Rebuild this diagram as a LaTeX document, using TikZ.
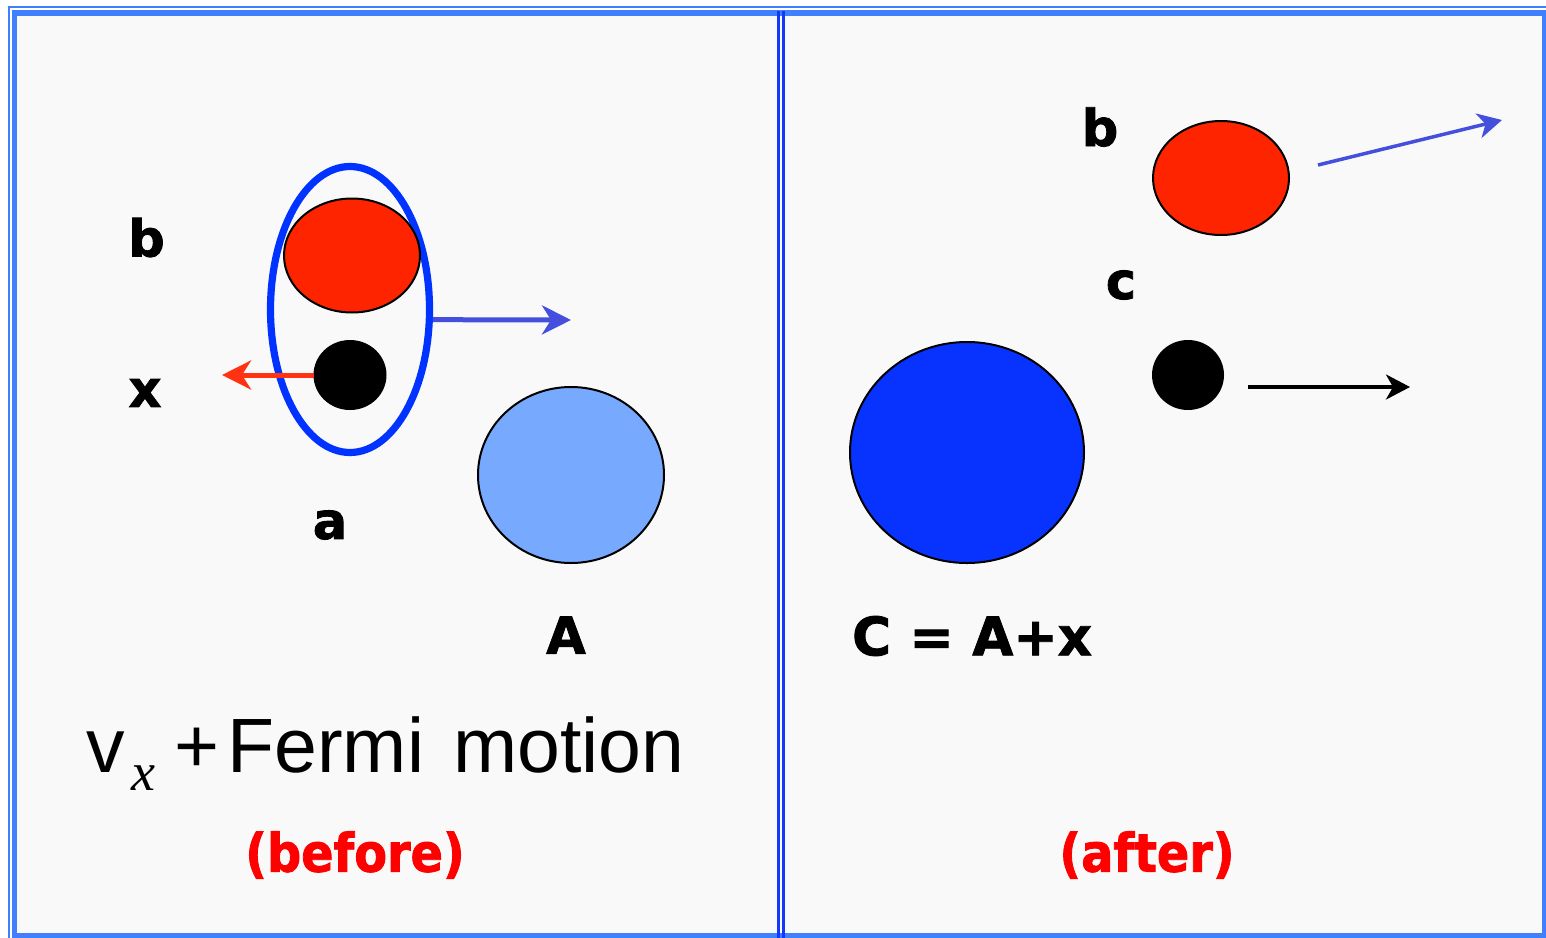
\documentclass[tikz,border=0pt]{standalone}
\usepackage{fontspec}
\usetikzlibrary{shapes.geometric,arrows.meta}
\newfontfamily\lblfont{DejaVu Sans}[FakeBold=1.6]
\newfontfamily\redfont{DejaVu Sans}[FakeStretch=0.9,FakeBold=1.6]
\newfontfamily\arialfont{Liberation Sans}
\newfontfamily\timesfont{Liberation Serif}
\definecolor{frameblue}{RGB}{64,128,255}
\definecolor{divblue}{RGB}{16,56,255}
\definecolor{ringblue}{RGB}{0,51,255}
\definecolor{partred}{RGB}{255,36,0}
\definecolor{lightA}{RGB}{119,170,255}
\definecolor{darkC}{RGB}{8,51,255}
\definecolor{arrowblue}{RGB}{68,80,221}
\definecolor{arrowred}{RGB}{255,51,17}
\definecolor{bggray}{RGB}{249,249,249}
\definecolor{textred}{RGB}{255,0,0}
\begin{document}
\begin{tikzpicture}[x=0.5pt,y=-0.5pt,
  lbl/.style={font=\lblfont\bfseries\fontsize{25.5}{30}\selectfont, inner sep=0pt},
  redlbl/.style={font=\redfont\bfseries\fontsize{26.5}{31}\selectfont, text=textred, inner sep=0pt},
  particle/.style={ellipse, draw=black, line width=1pt, inner sep=0pt},
  bigarrow/.style={line width=2.5pt, -{Stealth[length=14.5pt,width=14.5pt,inset=4.5pt]}},
  smallarrow/.style={line width=1.75pt, -{Stealth[length=12pt,width=12.5pt,inset=3.5pt]}}
]
\useasboundingbox (0,0) rectangle (1546,937);
\clip (0,0) rectangle (1546,937);
\fill[white] (0,0) rectangle (1546,937);
\fill[bggray] (14.5,13) rectangle (1546,937);
% frame
\draw[frameblue, line width=1pt] (9,7) rectangle (1556,946);
\draw[frameblue, line width=2.75pt] (14.5,13) rectangle (1544.5,935.5);
% divider
\draw[divblue, line width=1.5pt] (778.5,11) -- (778.5,940);
\draw[divblue, line width=1.5pt] (783.5,11) -- (783.5,940);

% ---------- before ----------
\node[ellipse, draw=ringblue, line width=3.6pt, inner sep=0pt,
      minimum width=79.5pt, minimum height=143pt] (ring) at (350,309.5) {};
\node[particle, fill=partred, minimum width=68pt, minimum height=57pt] (bL) at (352,255.5) {};
\node[particle, fill=black, minimum width=35.5pt, minimum height=34pt] (xL) at (350,375) {};
\node[particle, fill=lightA, minimum width=93pt, minimum height=88pt] (AL) at (571,475) {};

\coordinate (xtip) at (222,375);
\coordinate (ringtip) at (571,320);
\draw[bigarrow, arrowred] (xL.west) -- (xtip);
\draw[bigarrow, arrowblue] (ring.-7) -- (ringtip);

\node[lbl] (lb) at (146.5,237.5) {b};
\node[lbl] (lx) at (145,393) {x};
\node[lbl] (la) at (330,525) {a};
\node[lbl] (lA) at (566,635) {A};

\node[anchor=base west, inner sep=0pt, font=\arialfont\fontsize{38.5}{46}\selectfont] (v) at (86,772) {v};
\node[anchor=base west, inner sep=0pt, font=\timesfont\itshape\fontsize{27}{32}\selectfont] (vsub) at (131,790) {x};
\node[anchor=base west, inner sep=0pt, font=\arialfont\fontsize{38.5}{46}\selectfont] (plus) at (174,772) {+};
\node[anchor=base west, inner sep=0pt, font=\arialfont\fontsize{38.5}{46}\selectfont] (fermi) at (227,772) {Fermi\hspace{4pt} motion};

\node[redlbl] (before) at (355,855) {(before)};

% ---------- after ----------
\node[particle, fill=partred, minimum width=68pt, minimum height=57pt] (bR) at (1221,178) {};
\node[particle, fill=black, minimum width=35pt, minimum height=34pt] (cR) at (1188,375) {};
\node[particle, fill=darkC, minimum width=117pt, minimum height=110.5pt] (CR) at (967,452.5) {};

\coordinate (btip) at (1502,120);
\coordinate (ctip) at (1410,387);
\draw[smallarrow, arrowblue] ([shift={(28,-13)}]bR.east) -- (btip);
\draw[smallarrow, black] ([shift={(24,12)}]cR.east) -- (ctip);

\node[lbl] (rb) at (1100,127) {b};
\node[lbl] (rc) at (1121,285) {c};
\node[lbl, font=\lblfont\bfseries\fontsize{26.5}{31}\selectfont] (rC) at (972,636) {C = A+x};

\node[redlbl] (after) at (1147,855) {(after)};
\end{tikzpicture}
\end{document}
